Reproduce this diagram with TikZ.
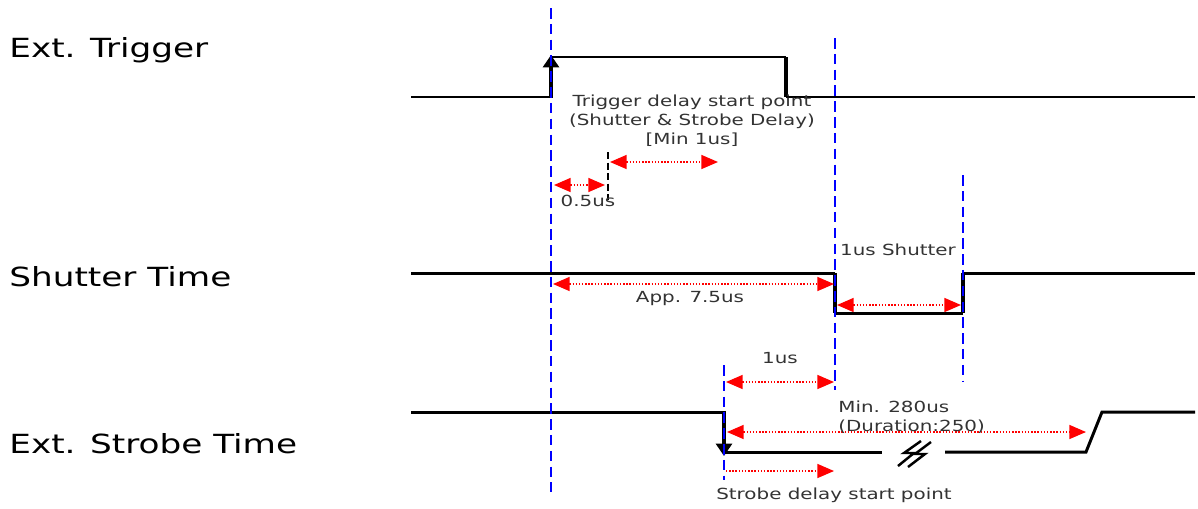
\documentclass[tikz,border=0pt]{standalone}
\usepackage{fontspec}
\setmainfont{DejaVu Sans}[FakeStretch=1.3]
\usetikzlibrary{arrows.meta}

\begin{document}
\begin{tikzpicture}[x=0.02cm, y=-0.02cm,
    sig/.style={line width=1.7pt},
    edgeline/.style={line width=2.7pt},
    guide/.style={blue, line width=1.1pt, dash pattern=on 6pt off 3pt},
    span/.style={red, line width=0.8pt, dash pattern=on 0.8pt off 1pt, {Triangle[length=9.5pt,width=8pt]}-{Triangle[length=9.5pt,width=8pt]}},
    halfspan/.style={red, line width=0.8pt, dash pattern=on 0.8pt off 1pt, -{Triangle[length=9.5pt,width=8pt]}},
    siglabel/.style={inner sep=0pt, anchor=west, font=\fontsize{15}{17}\selectfont},
    note/.style={inner sep=0pt, text=black!80, font=\fontsize{8.7}{10.8}\selectfont}]
    \useasboundingbox (0,0) rectangle (1198,508);

    % signal names
    \node[siglabel] (trig) at (9,50) {Ext. Trigger};
    \node[siglabel] (shut) at (9,277) {Shutter Time};
    \node[siglabel] (strb) at (9,444) {Ext. Strobe Time};

    % guide lines
    \coordinate (g1t) at (551,8);   \coordinate (g1b) at (551,492);
    \coordinate (g2t) at (835,38);  \coordinate (g2b) at (835,390);
    \coordinate (g3t) at (963,175); \coordinate (g3b) at (963,382);
    \coordinate (g4t) at (724,365); \coordinate (g4b) at (724,480);
    \coordinate (d1t) at (608,152); \coordinate (d1b) at (608,200);

    % trigger
    \draw[sig] (411,97) -- (551,97);
    \draw[sig] (551,57) -- (786,57);
    \draw[edgeline] (786,57) -- (786,97);
    \draw[sig] (786,97) -- (1195,97);
    \path[draw, edgeline, -{Triangle[length=7pt,width=9pt]}] (551,98) -- (551,55);

    % shutter
    \draw[sig] (411,273) -- (835,273);
    \draw[edgeline] (835,273) -- (835,313);
    \draw[sig] (835,313) -- (963,313);
    \draw[edgeline] (963,313) -- (963,273);
    \draw[sig] (963,273) -- (1195,273);

    % strobe
    \draw[sig] (411,412) -- (724,412);
    \path[draw, edgeline, -{Triangle[length=7pt,width=9pt]}] (724,411) -- (724,456);
    \draw[sig] (724,452) -- (882,452);
    \draw[sig] (945,452) -- (1086,452) -- (1102,412) -- (1195,412);
    \draw[line width=1.4pt] (898,466) -- (914,453) -- (904,453) -- (921,441);
    \draw[line width=1.4pt] (908,467) -- (925,454) -- (915,454) -- (931,442);

    \path[draw, guide] (g1t) -- (g1b);
    \path[draw, guide] (g2t) -- (g2b);
    \path[draw, guide] (g3t) -- (g3b);
    \path[draw, guide] (g4t) -- (g4b);
    \path[draw, black, line width=1pt, dash pattern=on 4pt off 2pt] (d1t) -- (d1b);

    % spans
    \coordinate (a1) at (554,185); \coordinate (a2) at (605,185);
    \coordinate (b1) at (610,162); \coordinate (b2) at (718,162);
    \coordinate (c1) at (553,284); \coordinate (c2) at (834,284);
    \coordinate (e1) at (837,305); \coordinate (e2) at (961,305);
    \coordinate (f1) at (726,382); \coordinate (f2) at (834,382);
    \coordinate (h1) at (727,432); \coordinate (h2) at (1086,432);
    \coordinate (k1) at (726,471); \coordinate (k2) at (834,471);
    \path[draw, span] (a1) -- (a2);
    \path[draw, span] (b1) -- (b2);
    \path[draw, span] (c1) -- (c2);
    \path[draw, span] (e1) -- (e2);
    \path[draw, span] (f1) -- (f2);
    \path[draw, span] (h1) -- (h2);
    \path[draw, halfspan] (k1) -- (k2);

    % notes
    \node[note, align=center] (tdelay) at (692,121) {Trigger delay start point\\(Shutter \& Strobe Delay)\\{}[Min 1us]};
    \node[note] (half) at (588,201) {0.5us};
    \node[note] (app) at (690,299) {App. 7.5us};
    \node[note] (oneshut) at (898,250) {1us Shutter};
    \node[note] (oneus) at (780,358) {1us};
    \node[note, anchor=west, align=left] (minstr) at (838,417) {Min. 280us\\(Duration:250)};
    \node[note] (sdelay) at (834,495) {Strobe delay start point};
\end{tikzpicture}
\end{document}
